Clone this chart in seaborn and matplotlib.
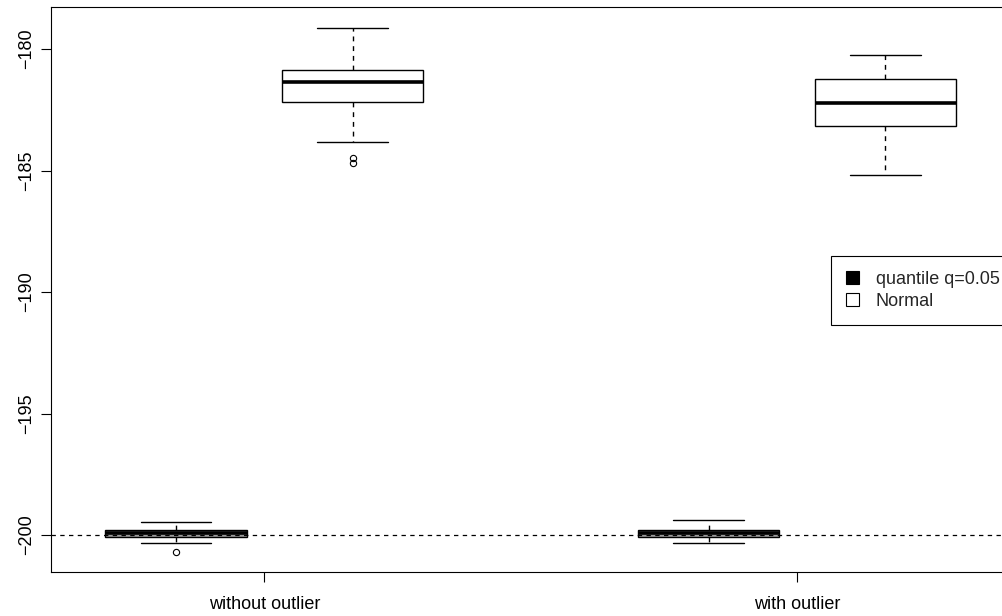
import matplotlib
matplotlib.use("Agg")
import matplotlib.pyplot as plt
from matplotlib.patches import Patch
import seaborn as sns
import pandas as pd

# ---- data ----
groups = ["without outlier", "with outlier"]
methods = ["quantile q=0.05", "Normal"]
box_group = ["without outlier", "without outlier", "with outlier", "with outlier"]
box_method = ["quantile q=0.05", "Normal", "quantile q=0.05", "Normal"]
lower_whisker = [-200.33, -183.83, -200.33, -185.20]
q1 = [-200.07, -182.17, -200.10, -183.17]
median = [-199.91, -181.36, -199.92, -182.21]
q3 = [-199.78, -180.86, -199.79, -181.23]
upper_whisker = [-199.45, -179.14, -199.40, -180.25]
outliers = [[-200.69], [-184.49, -184.69], [], []]
yticks = [-200, -195, -190, -185, -180]
ref_level = -200


def sample_from_summary(lw, a, m, b, uw, out):
    """Sample whose quartiles/whiskers reproduce the read five-number summary."""
    low = sorted(o for o in out if o < a)
    high = sorted(o for o in out if o > b)
    pad = max(len(low), len(high)) + 1
    lows = low + [lw] * (pad - len(low))
    highs = [uw] * (pad - len(high)) + high
    k = pad + 2
    return lows + [a] * k + [m] + [b] * k + highs


rows = []
for i in range(len(box_group)):
    vals = sample_from_summary(lower_whisker[i], q1[i], median[i], q3[i],
                               upper_whisker[i], outliers[i])
    for v in vals:
        rows.append({"group": box_group[i], "method": box_method[i], "value": v})
df = pd.DataFrame(rows)

sns.set_style("white")
plt.rcParams["font.family"] = ["Liberation Sans", "DejaVu Sans"]

W, H = 1002, 616
fig = plt.figure(figsize=(W / 100, H / 100), dpi=100)
left_px, right_px, top_px, bottom_px = 51.3, 1010, 7, 572
ax = fig.add_axes([left_px / W, 1 - bottom_px / H,
                   (right_px - left_px) / W, (bottom_px - top_px) / H])

palette = {"quantile q=0.05": "#9a9a9a", "Normal": "white"}
sns.boxplot(data=df, x="group", y="value", hue="method",
            order=groups, hue_order=methods, palette=palette, saturation=1,
            width=0.664, gap=0.2, dodge=True, linecolor="black", linewidth=1.0,
            whis=1.5, legend=False, ax=ax,
            whiskerprops=dict(linestyle=(0, (3.5, 3.5)), linewidth=1.0, color="black"),
            capprops=dict(linewidth=1.0, color="black"),
            medianprops=dict(linewidth=2.6, color="black"),
            boxprops=dict(linewidth=1.0, edgecolor="black"),
            flierprops=dict(marker="o", markersize=4.5, markerfacecolor="none",
                            markeredgecolor="black", markeredgewidth=0.8))

ax.axhline(ref_level, color="black", linestyle=(0, (3.5, 3.5)), linewidth=0.9, zorder=10)

ax.set_xlim(-0.4, 1.4)
ax.set_ylim(-201.52, -178.27)
ax.set_yticks(yticks)
ax.set_yticklabels([str(t).replace("-", "\u2212") for t in yticks],
                   rotation=90, va="center")
ax.set_xticks([0, 1])
ax.set_xticklabels(groups)
ax.set_xlabel("")
ax.set_ylabel("")
ax.tick_params(axis="both", direction="out", length=7, width=0.8,
               labelsize=13, colors="black", bottom=True, left=True)
ax.tick_params(axis="y", pad=5)
ax.tick_params(axis="x", pad=10)
for s in ax.spines.values():
    s.set_visible(True)
    s.set_color("black")
    s.set_linewidth(0.8)

handles = [Patch(facecolor="black", edgecolor="black", linewidth=0.8),
           Patch(facecolor="white", edgecolor="black", linewidth=0.8)]
leg = fig.legend(handles, methods, loc="upper left",
                 bbox_to_anchor=(831 / W, 1 - 256 / H), bbox_transform=fig.transFigure,
                 fontsize=13, frameon=True, fancybox=False, framealpha=1,
                 edgecolor="black", borderpad=0.82, labelspacing=0.28,
                 handlelength=0.75, handleheight=0.75, handletextpad=0.9,
                 borderaxespad=0)
leg.get_frame().set_linewidth(0.8)

fig.savefig("out.png", dpi=100)
